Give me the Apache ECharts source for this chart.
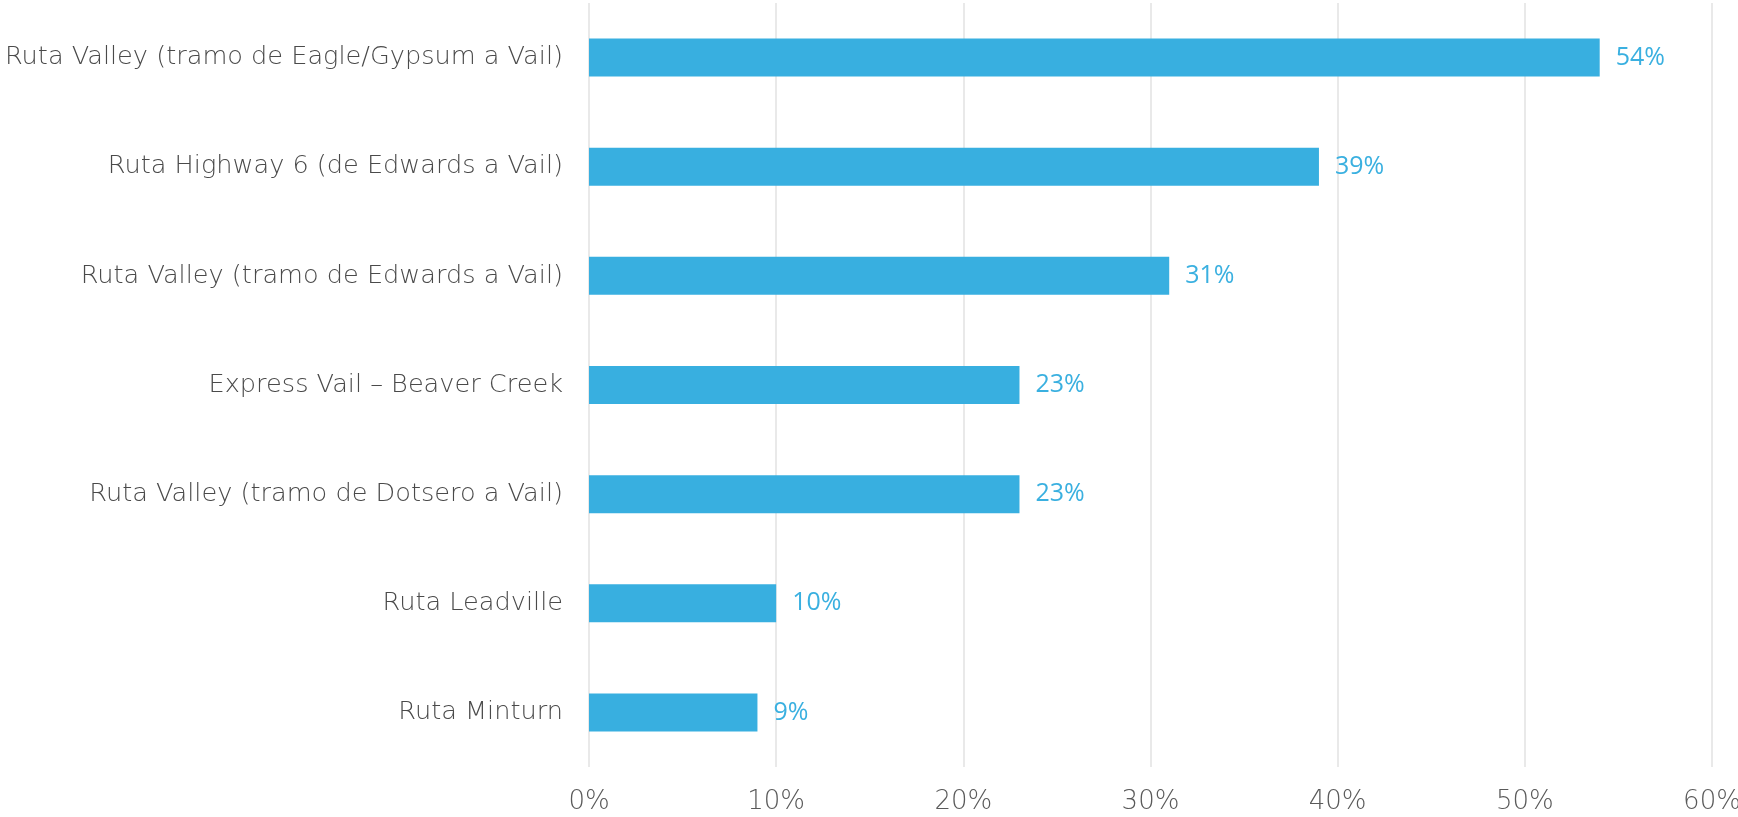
<!DOCTYPE html>
<html>
<head>
<meta charset="utf-8">
<script src="https://cdn.jsdelivr.net/npm/echarts@6/dist/echarts.min.js"></script>
<style>
  html, body { margin: 0; padding: 0; background: #fff; }
  #chart { width: 1738px; height: 817px; }
</style>
</head>
<body>
<div id="chart"></div>
<script>
// categories top -> bottom
const categories = [
  'Ruta Valley (tramo de Eagle/Gypsum a Vail)',
  'Ruta Highway 6 (de Edwards a Vail)',
  'Ruta Valley (tramo de Edwards a Vail)',
  'Express Vail – Beaver Creek',
  'Ruta Valley (tramo de Dotsero a Vail)',
  'Ruta Leadville',
  'Ruta Minturn'
]
const values = [54, 39, 31, 23, 23, 10, 9]
const tickMax = 60
const tickStep = 10

const myChart = echarts.init(document.getElementById('chart'))
myChart.setOption({
  animation: false,
  grid: {
    top: 3,
    bottom: 50,
    left: 589,
    right: 26,
    containLabel: false,
    outerBoundsMode: 'none'
  },
  xAxis: {
    type: 'value',
    min: 0,
    max: tickMax,
    interval: tickStep,
    axisLine: { show: false },
    axisTick: { show: false },
    splitLine: {
      show: true,
      lineStyle: { color: '#e2e2e2', width: 1.5 }
    },
    axisLabel: {
      formatter: '{value}%',
      color: '#5a5a5a',
      fontFamily: 'DejaVu Sans',
      fontWeight: 200,
      fontSize: 26,
      margin: 22
    }
  },
  yAxis: {
    type: 'category',
    inverse: true,
    data: categories,
    axisLine: { show: false },
    axisTick: { show: false },
    axisLabel: {
      color: '#4a4a4a',
      fontFamily: 'DejaVu Sans',
      fontWeight: 200,
      fontSize: 25.6,
      margin: 26
    }
  },
  series: [
    {
      type: 'bar',
      data: values,
      barWidth: 38,
      itemStyle: { color: '#38AFE0' },
      label: {
        show: true,
        position: 'right',
        distance: 16,
        formatter: '{c}%',
        color: '#3AB0E0',
        fontFamily: 'Open Sans',
        fontSize: 25
      }
    }
  ]
})
</script>
</body>
</html>
